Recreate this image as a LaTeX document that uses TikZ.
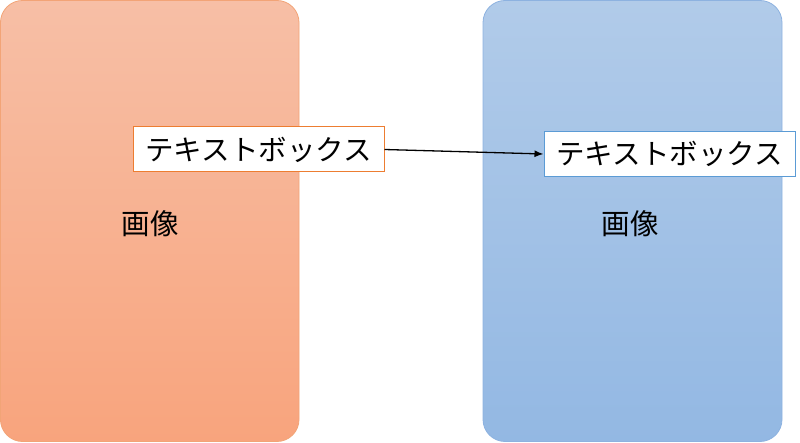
\documentclass[tikz,border=0pt]{standalone}
\usepackage{fontspec}
\setmainfont{Noto Sans CJK JP}
\usetikzlibrary{arrows.meta}
\definecolor{orTop}{HTML}{F7BFA6}
\definecolor{orBot}{HTML}{F8A47D}
\definecolor{orLine}{HTML}{F2A477}
\definecolor{blTop}{HTML}{B1CBE9}
\definecolor{blBot}{HTML}{93B8E3}
\definecolor{blLine}{HTML}{8DB2E0}
\definecolor{boxOr}{HTML}{ED7D31}
\definecolor{boxBl}{HTML}{5B9BD5}
\tikzset{
  panel/.style={rounded corners=22pt, line width=0.8pt},
  tbox/.style={draw, fill=white, line width=1pt, minimum width=251pt, minimum height=45pt, inner sep=0pt, font=\fontsize{28.5}{33}\selectfont},
  imglabel/.style={font=\fontsize{28.5}{33}\selectfont, inner sep=0pt},
  conn/.style={-{Latex[length=9pt,width=7pt]}, line width=1.3pt, black}
}
\begin{document}
\begin{tikzpicture}[x=1pt,y=-1pt]
\useasboundingbox (0,0) rectangle (800,443);
\shade[panel, top color=orTop, bottom color=orBot, draw=orLine] (0.5,0.5) rectangle (299,441.5);
\shade[panel, top color=blTop, bottom color=blBot, draw=blLine] (483,0.5) rectangle (782,441.5);
\node[imglabel] (img1) at (150,224) {画像};
\node[imglabel] (img2) at (630,224) {画像};
\node[tbox, draw=boxOr] (tb1) at (258.5,149.5) {テキストボックス};
\node[tbox, draw=boxBl] (tb2) at (669.5,154) {テキストボックス};
\draw[conn] (tb1.east) -- (tb2.west);
\end{tikzpicture}
\end{document}
